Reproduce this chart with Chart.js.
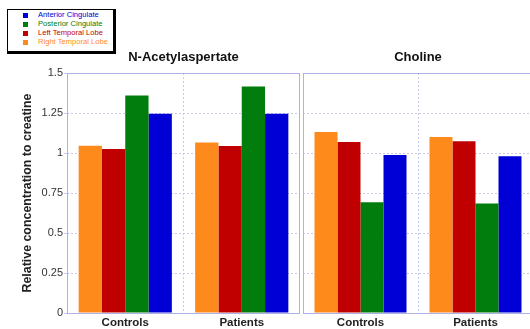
<!DOCTYPE html>
<html><head><meta charset="utf-8">
<script src="https://cdn.jsdelivr.net/npm/chart.js@4.4.1/dist/chart.umd.min.js"></script>
<style>
html,body{margin:0;padding:0;background:#fff;width:530px;height:329px;overflow:hidden;position:relative;font-family:"Liberation Sans",Arial,sans-serif;}
#c1{position:absolute;left:0;top:0;}
#c2{position:absolute;left:303px;top:0;}
#legend{position:absolute;left:7px;top:9px;width:105px;height:40px;border:1px solid #000;border-right:3px solid #000;border-bottom:3px solid #000;background:#fff;padding-top:1px;box-sizing:content-box;}
.row{height:8.9px;line-height:8.9px;font-size:7.6px;position:relative;white-space:nowrap;}
.sw{position:absolute;left:15px;top:2px;width:5px;height:5px;}
.lt{position:absolute;left:30px;top:0;}
</style></head>
<body>
<canvas id="c1" width="300" height="329" style="width:300px;height:329px"></canvas>
<canvas id="c2" width="230" height="329" style="width:230px;height:329px"></canvas>
<div id="legend"></div>
<script>
const groups = ["Controls", "Patients"];
const panelTitles = ["N-Acetylaspertate", "Choline"];
const seriesNames = ["Right Temporal Lobe", "Left Temporal Lobe", "Posterior Cingulate", "Anterior Cingulate"];
const seriesColors = ["#FF8A1C", "#C00000", "#007D0C", "#0000D6"];
// N-Acetylaspartate values per series [Controls, Patients]
const naaRightTemporal = [1.045, 1.065];
const naaLeftTemporal = [1.025, 1.043];
const naaPosteriorCing = [1.36, 1.415];
const naaAnteriorCing = [1.245, 1.245];
// Choline values per series [Controls, Patients]
const choRightTemporal = [1.132, 1.100];
const choLeftTemporal = [1.068, 1.073];
const choPosteriorCing = [0.692, 0.684];
const choAnteriorCing = [0.988, 0.980];
const yTicks = [0, 0.25, 0.5, 0.75, 1, 1.25, 1.5];

const gridColor = "#c9c9f0";
const borderColor = "#aeb0e6";

const panelPlugin = {
  id: "panel",
  afterDraw(chart, args, opts) {
    const a = chart.chartArea, ctx = chart.ctx;
    ctx.save();
    ctx.strokeStyle = borderColor;
    ctx.lineWidth = 1;
    ctx.strokeRect(Math.round(a.left) + 0.5, Math.round(a.top) + 0.5, Math.round(a.right - a.left) - 1, Math.round(a.bottom - a.top));
    ctx.fillStyle = "#111";
    ctx.font = "bold 13px 'Liberation Sans', Arial, sans-serif";
    ctx.textAlign = "center";
    ctx.textBaseline = "middle";
    ctx.fillText(opts.title, (a.left + a.right) / 2 + (opts.dx || 0), 57);
    ctx.restore();
  }
};

function makeDatasets(vals) {
  return vals.map((v, i) => ({
    label: seriesNames[i],
    data: v,
    backgroundColor: seriesColors[i],
    borderWidth: 0,
    categoryPercentage: 0.8,
    barPercentage: 1.0
  }));
}

function makeOptions(showY, title, dx) {
  return {
    responsive: false,
    animation: false,
    devicePixelRatio: 1,
    layout: { padding: { top: 73, left: 0, right: 0, bottom: 0 } },
    plugins: { legend: { display: false }, tooltip: { enabled: false }, panel: { title: title, dx: dx } },
    scales: {
      x: {
        grid: { color: gridColor, drawTicks: false, offset: true },
        border: { display: false, dash: [2, 2] },
        ticks: { color: "#222", font: { family: "'Liberation Sans', Arial, sans-serif", size: 11.5, weight: "bold" }, padding: 3 },
        afterFit(s) { s.height = 16; }
      },
      y: {
        min: 0, max: 1.5,
        afterBuildTicks(s) { s.ticks = yTicks.map(v => ({ value: v })); },
        grid: { color: gridColor, drawTicks: showY, tickLength: 3 },
        border: { display: false, dash: [2, 2] },
        ticks: {
          display: showY,
          color: "#333",
          padding: 1,
          font: { family: "'Liberation Sans', Arial, sans-serif", size: 11 },
          callback: v => String(v)
        },
        title: showY ? {
          display: true,
          text: "Relative concentration to creatine",
          color: "#222",
          font: { family: "'Liberation Sans', Arial, sans-serif", size: 12.4, weight: "bold" },
          padding: { top: 20, bottom: 0 }
        } : { display: false },
        afterFit(s) { s.width = showY ? 67 : 0; }
      }
    }
  };
}

new Chart(document.getElementById("c1"), {
  type: "bar",
  data: { labels: groups, datasets: makeDatasets([naaRightTemporal, naaLeftTemporal, naaPosteriorCing, naaAnteriorCing]) },
  options: makeOptions(true, panelTitles[0], 0),
  plugins: [panelPlugin]
});

new Chart(document.getElementById("c2"), {
  type: "bar",
  data: { labels: groups, datasets: makeDatasets([choRightTemporal, choLeftTemporal, choPosteriorCing, choAnteriorCing]) },
  options: makeOptions(false, panelTitles[1], 0),
  plugins: [panelPlugin]
});

// legend (reverse order of bars)
const leg = document.getElementById("legend");
for (let i = seriesNames.length - 1; i >= 0; i--) {
  const r = document.createElement("div");
  r.className = "row";
  r.innerHTML = '<span class="sw" style="background:' + seriesColors[i] + '"></span><span class="lt" style="color:' + seriesColors[i] + '">' + seriesNames[i] + '</span>';
  leg.appendChild(r);
}
</script>
</body></html>
